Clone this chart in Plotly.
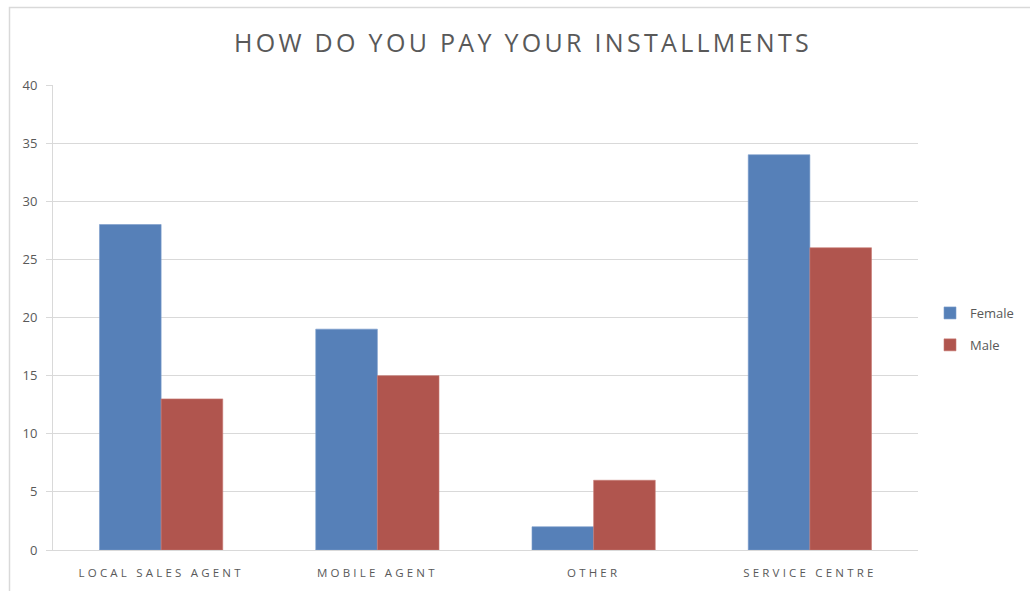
import plotly.graph_objects as go

categories = ["LOCAL SALES AGENT", "MOBILE AGENT", "OTHER", "SERVICE CENTRE"]
female = [28, 19, 2, 34]
male = [13, 15, 6, 26]
y_ticks = [0, 5, 10, 15, 20, 25, 30, 35, 40]
title_text = "HOW DO YOU PAY YOUR INSTALLMENTS"

W, H = 1030, 591
L, R, T, B = 53, 918, 85, 550

fig = go.Figure()
fig.add_trace(go.Bar(name="Female", x=categories, y=female, legendgroup="f",
                     marker=dict(color="#5680B8", line=dict(color="#7a9ccb", width=0.6))))
fig.add_trace(go.Bar(name="Male", x=categories, y=male, legendgroup="m",
                     marker=dict(color="#B0554E", line=dict(color="#c77a73", width=0.6))))

pw = R - L
ph = B - T
fig.add_shape(type="rect", xref="paper", yref="paper",
              x0=(9.5 - L) / pw, x1=(1040 - L) / pw,
              y0=(B - 600) / ph, y1=(B - 7.5) / ph,
              line=dict(color="#d9d9d9", width=1.5), fillcolor="rgba(0,0,0,0)", layer="below")

tick_text = ["<span style='letter-spacing:3.2px'>%s</span>" % c for c in categories]

fig.update_layout(
    width=W, height=H,
    margin=dict(l=L, r=W - R, t=T, b=H - B, autoexpand=False),
    paper_bgcolor="white", plot_bgcolor="white",
    barmode="group", bargap=0.43, bargroupgap=0,
    title=dict(text="<span style='letter-spacing:3.3px'>%s</span>" % title_text,
               x=523 / W, xanchor="center", y=1 - 43 / H, yanchor="middle",
               font=dict(family="Open Sans", size=25, color="#595959")),
    font=dict(family="Open Sans", color="#595959"),
    xaxis=dict(showgrid=False, showline=True, linecolor="#d9d9d9", linewidth=1,
               tickvals=categories, ticktext=tick_text, ticklabelstandoff=12,
               tickfont=dict(size=11.5, color="#595959"), ticks=""),
    yaxis=dict(range=[0, 40], tickvals=y_ticks, showgrid=True, gridcolor="#d9d9d9", gridwidth=1,
               showline=True, linecolor="#d9d9d9", linewidth=1,
               ticks="outside", ticklen=6, tickcolor="#d9d9d9", ticklabelstandoff=6,
               tickfont=dict(size=13, color="#595959"), zeroline=False),
    legend=dict(x=(930 - L) / pw, xanchor="left", y=(B - 298) / ph, yanchor="top",
                font=dict(size=13, color="#595959"), tracegroupgap=12,
                itemwidth=30, bgcolor="rgba(0,0,0,0)"),
    showlegend=True,
)

fig.write_html("out.html")
